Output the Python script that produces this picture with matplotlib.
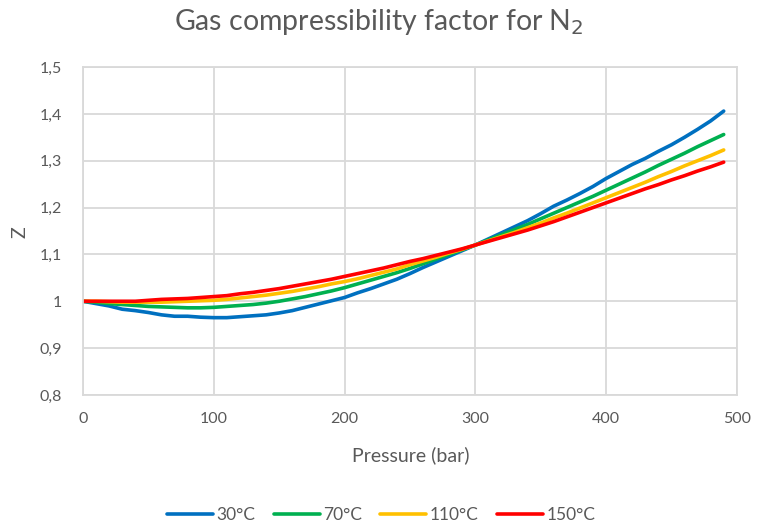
import numpy as np
import matplotlib.pyplot as plt

plt.rcParams['font.family'] = ['Lato', 'DejaVu Sans']

pressure = np.arange(0, 500, 10)

z_30 = [1.000, 0.995, 0.990, 0.983, 0.980, 0.976, 0.971, 0.968, 0.968, 0.966,
        0.965, 0.965, 0.967, 0.969, 0.971, 0.975, 0.980, 0.987, 0.994, 1.001,
        1.008, 1.018, 1.027, 1.037, 1.047, 1.059, 1.072, 1.084, 1.096, 1.108,
        1.120, 1.133, 1.146, 1.159, 1.172, 1.187, 1.203, 1.216, 1.230, 1.245,
        1.262, 1.277, 1.292, 1.305, 1.320, 1.334, 1.350, 1.367, 1.385, 1.406]
z_70 = [1.000, 0.998, 0.995, 0.993, 0.991, 0.989, 0.988, 0.987, 0.986, 0.986,
        0.987, 0.989, 0.991, 0.993, 0.996, 1.000, 1.005, 1.010, 1.016, 1.022,
        1.029, 1.037, 1.045, 1.053, 1.061, 1.070, 1.080, 1.090, 1.100, 1.110,
        1.120, 1.131, 1.142, 1.153, 1.164, 1.176, 1.188, 1.200, 1.212, 1.224,
        1.237, 1.250, 1.263, 1.276, 1.290, 1.303, 1.316, 1.330, 1.343, 1.356]
z_110 = [1.000, 1.000, 0.999, 0.998, 0.998, 0.998, 0.998, 0.999, 1.000, 1.001,
         1.002, 1.004, 1.007, 1.010, 1.013, 1.017, 1.021, 1.026, 1.031, 1.037,
         1.042, 1.048, 1.055, 1.062, 1.069, 1.078, 1.086, 1.094, 1.103, 1.111,
         1.120, 1.129, 1.138, 1.147, 1.157, 1.167, 1.178, 1.188, 1.199, 1.210,
         1.221, 1.232, 1.243, 1.254, 1.266, 1.277, 1.289, 1.300, 1.311, 1.323]
z_150 = [1.000, 1.000, 1.000, 1.000, 1.000, 1.002, 1.004, 1.005, 1.006, 1.008,
         1.010, 1.012, 1.016, 1.019, 1.023, 1.027, 1.032, 1.037, 1.042, 1.047,
         1.053, 1.059, 1.065, 1.071, 1.078, 1.085, 1.091, 1.098, 1.105, 1.112,
         1.120, 1.128, 1.136, 1.144, 1.152, 1.161, 1.170, 1.180, 1.190, 1.200,
         1.210, 1.220, 1.230, 1.240, 1.249, 1.259, 1.268, 1.278, 1.287, 1.297]

series = [('30°C', z_30, '#0070C0'), ('70°C', z_70, '#00B050'),
          ('110°C', z_110, '#FFC000'), ('150°C', z_150, '#FF0000')]

y_ticks = [0.8, 0.9, 1.0, 1.1, 1.2, 1.3, 1.4, 1.5]
y_labels = ['0,8', '0,9', '1', '1,1', '1,2', '1,3', '1,4', '1,5']
x_ticks = [0, 100, 200, 300, 400, 500]

text_col = '#595959'
grid_col = '#D9D9D9'

fig = plt.figure(figsize=(7.58, 5.28), dpi=100)
ax = fig.add_axes([0.1095, 0.252, 0.8625, 0.621])

for name, vals, col in series:
    ax.plot(pressure, vals, color=col, lw=2.6, label=name, solid_capstyle='round')

ax.set_xlim(0, 500)
ax.set_ylim(0.8, 1.5)
ax.set_xticks(x_ticks)
ax.set_yticks(y_ticks)
ax.set_yticklabels(y_labels)
ax.tick_params(length=0, colors=text_col, labelsize=11.5)
ax.tick_params(axis='x', pad=12)
ax.tick_params(axis='y', pad=15)
ax.grid(True, color=grid_col, lw=1.3)
ax.set_axisbelow(True)
for s in ax.spines.values():
    s.set_color(grid_col)
    s.set_linewidth(1.3)

ax.set_xlabel('Pressure (bar)', color=text_col, fontsize=14)
ax.set_ylabel('Z', color=text_col, fontsize=14)
ax.xaxis.set_label_coords(0.502, -0.157)
ax.yaxis.set_label_coords(-0.084, 0.497)
fig.text(0.5, 0.958, 'Gas compressibility factor for N$_2$', ha='center', va='center',
         color=text_col, fontsize=20.5)

fig.legend(loc='center', bbox_to_anchor=(0.503, 0.025), ncol=4, frameon=False,
           fontsize=12.5, labelcolor=text_col, handlelength=2.65, columnspacing=1.05,
           handletextpad=0.2)

fig.savefig('out.png', dpi=100)
